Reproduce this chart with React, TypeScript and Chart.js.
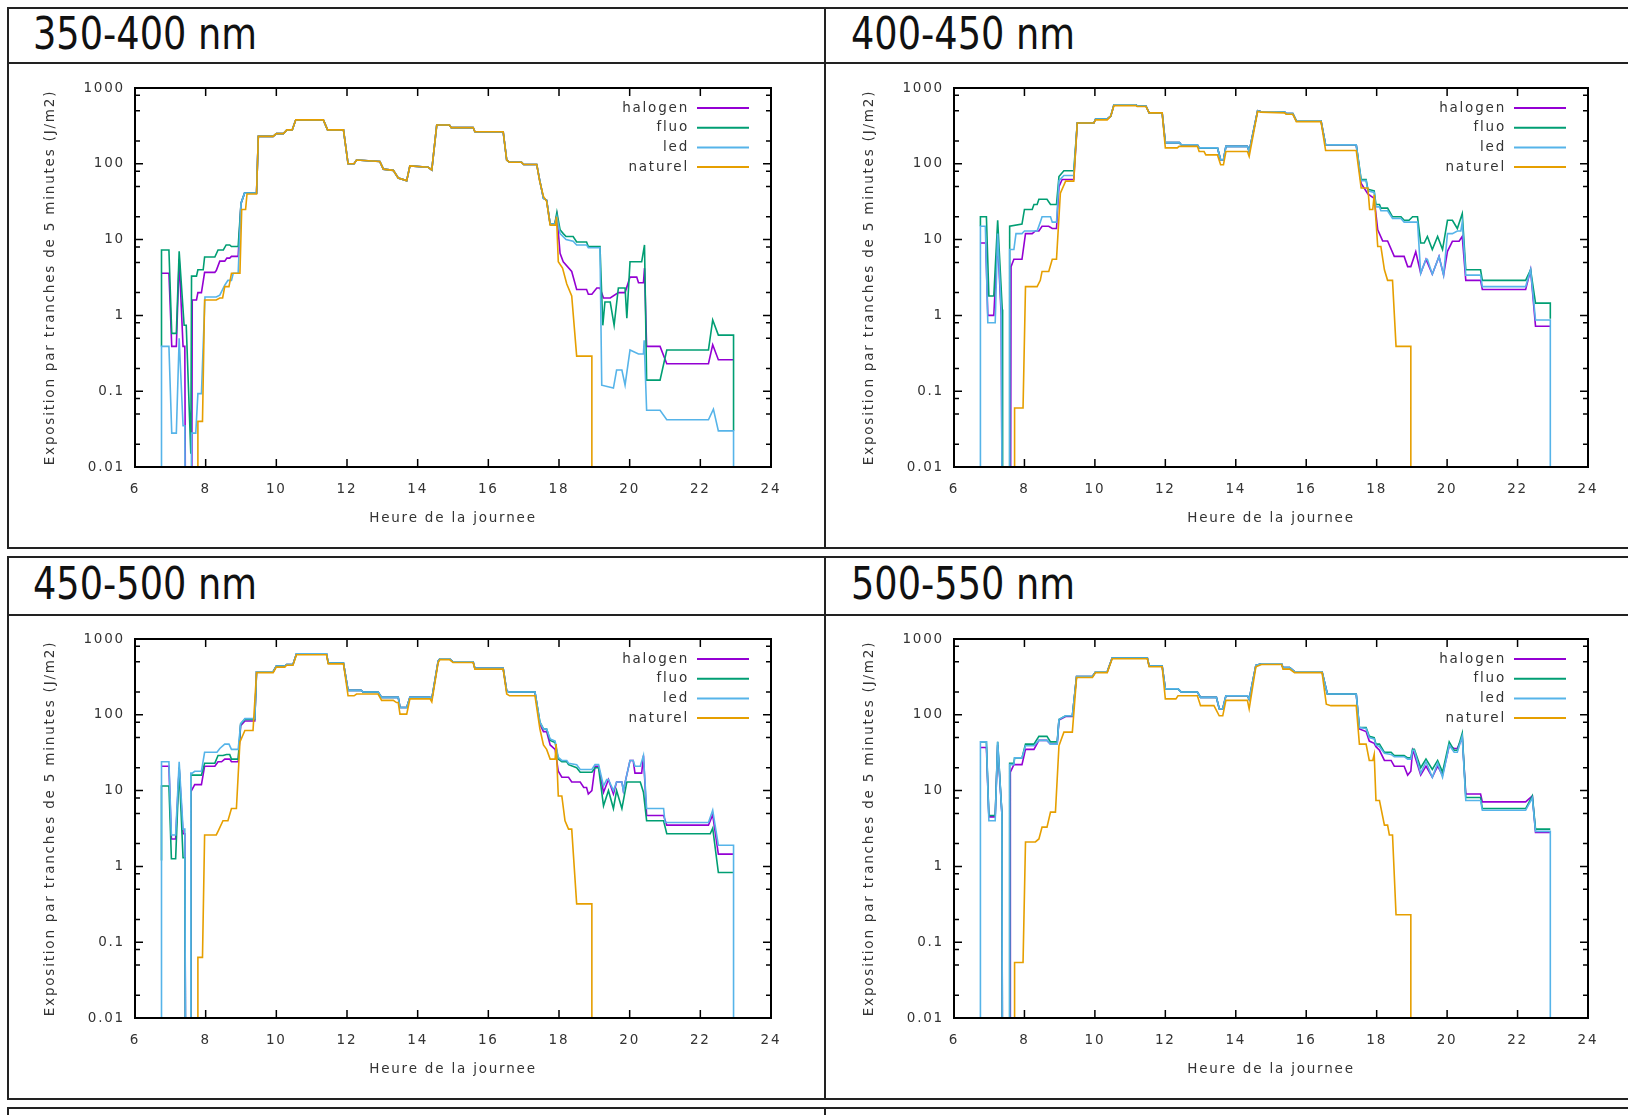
import React, { useEffect, useRef } from 'react';
import { Chart, registerables } from 'chart.js';

Chart.register(...registerables);

type Pt = [number, number];
const OFF = 1e-4; // no exposure (falls below the 0.01 floor)

const SERIES_NAMES = ['halogen', 'fluo', 'led', 'naturel'];
const SERIES_COLORS = ['#9400D3', '#009E73', '#56B4E9', '#E69F00'];
const X_TICKS = [6, 8, 10, 12, 14, 16, 18, 20, 22, 24];
const Y_TICKS = [0.01, 0.1, 1, 10, 100, 1000];
const Y_TICK_LABELS = ['0.01', '0.1', '1', '10', '100', '1000'];
const Y_MINOR = [2, 5, 8];
const BANDS = ['350-400 nm', '400-450 nm', '450-500 nm', '500-550 nm'];
const X_TITLE = 'Heure de la journee';
const Y_TITLE = 'Exposition par tranches de 5 minutes (J/m2)';

// ---------- 350-400 nm ----------
const HAL_AM_350: Pt[] = [[6.75,3.6],[6.96,3.6],[7.04,0.39],[7.17,0.39],[7.25,5.5],[7.36,0.39],[7.41,0.39],[7.44,OFF],[7.6,OFF],[7.62,1.6],[7.74,1.6],[7.78,2.0],[7.88,2.0],[7.97,3.7],[8.26,3.7],[8.3,3.9],[8.4,5.2],[8.54,5.2],[8.6,5.7],[8.68,5.7],[8.73,6.0],[8.92,6.0],[9.0,30],[9.1,41],[9.44,41]];
const FLUO_AM_350: Pt[] = [[6.75,0.39],[6.75,7.3],[6.96,7.3],[7.04,0.58],[7.17,0.58],[7.25,7.0],[7.39,0.74],[7.45,0.74],[7.58,0.015],[7.6,3.3],[7.74,3.3],[7.78,4.0],[7.93,4.0],[7.97,5.9],[8.26,5.9],[8.35,7.3],[8.5,7.3],[8.58,8.5],[8.68,8.5],[8.73,8.1],[8.92,8.1],[9.0,30],[9.1,41],[9.44,41]];
const LED_AM_350: Pt[] = [[6.75,OFF],[6.75,0.39],[6.96,0.39],[7.04,0.028],[7.17,0.028],[7.25,0.5],[7.36,0.035],[7.41,0.035],[7.44,OFF],[7.58,OFF],[7.6,0.028],[7.72,0.028],[7.78,0.093],[7.88,0.093],[7.98,1.75],[8.3,1.75],[8.4,1.85],[8.54,2.5],[8.63,2.9],[8.73,2.9],[8.78,3.6],[8.92,3.6],[9.0,30],[9.1,41],[9.44,41]];
const NAT_AM_350: Pt[] = [[7.78,OFF],[7.78,0.04],[7.91,0.04],[7.97,1.6],[8.3,1.6],[8.4,1.7],[8.48,1.7],[8.54,2.4],[8.66,2.4],[8.73,3.6],[8.97,3.6],[9.02,25],[9.13,25],[9.17,40],[9.44,40]];
const DAY_350: Pt[] = [[9.49,230],[9.91,230],[10.0,250],[10.2,250],[10.3,280],[10.45,280],[10.55,380],[11.33,380],[11.45,280],[11.9,280],[12.03,100],[12.2,100],[12.27,112],[12.93,107],[13.03,85],[13.31,82],[13.45,65],[13.69,60],[13.78,94],[14.3,90],[14.4,83],[14.54,325],[14.9,325],[14.95,300],[15.57,300],[15.62,265],[16.42,265],[16.52,112],[16.6,105],[16.94,105],[17.0,98],[17.37,98]];
const HAL_PM_350: Pt[] = [[17.45,62],[17.56,35],[17.65,33],[17.75,16],[17.88,16],[17.94,21],[18.03,6.6],[18.12,5.1],[18.36,3.8],[18.5,2.2],[18.78,2.2],[18.83,1.9],[18.93,1.9],[19.07,2.3],[19.16,2.3],[19.26,1.7],[19.45,1.7],[19.68,2.0],[19.87,2.0],[20.01,3.2],[20.2,3.2],[20.25,2.7],[20.39,2.7],[20.42,4.2],[20.48,0.39],[20.86,0.39],[21.05,0.23],[22.23,0.23],[22.35,0.41],[22.51,0.26],[22.94,0.26]];
const FLUO_PM_350: Pt[] = [[17.45,62],[17.56,35],[17.65,33],[17.75,16],[17.88,16],[17.94,23],[18.03,13.5],[18.12,12],[18.2,11],[18.4,11],[18.5,9.3],[18.78,9.3],[18.83,8.1],[19.16,8.1],[19.24,0.74],[19.3,1.5],[19.45,1.5],[19.56,0.74],[19.68,2.3],[19.87,2.3],[19.92,0.92],[20.01,5.1],[20.34,5.1],[20.42,8.5],[20.48,0.14],[20.86,0.14],[21.05,0.35],[22.23,0.35],[22.35,0.87],[22.51,0.55],[22.94,0.55],[22.94,0.03]];
const LED_PM_350: Pt[] = [[17.45,62],[17.56,35],[17.65,33],[17.75,16],[17.88,16],[17.94,20],[18.03,12],[18.2,10],[18.4,9.5],[18.5,8.5],[18.78,8.5],[18.83,7.8],[19.16,7.8],[19.21,0.12],[19.54,0.11],[19.63,0.19],[19.78,0.19],[19.87,0.12],[20.01,0.35],[20.25,0.31],[20.39,0.31],[20.41,0.47],[20.48,0.056],[20.86,0.056],[21.05,0.042],[22.23,0.042],[22.37,0.058],[22.51,0.03],[22.94,0.03],[22.94,OFF]];
const NAT_PM_350: Pt[] = [[17.45,60],[17.56,37],[17.65,32],[17.75,15.5],[17.9,15.5],[17.93,20],[17.98,5.1],[18.1,4.2],[18.22,2.6],[18.36,1.8],[18.5,0.29],[18.93,0.29],[18.93,OFF]];

// ---------- 400-450 nm ----------
const HAL_AM_400: Pt[] = [[6.75,9],[6.9,9],[6.96,1.0],[7.13,1.0],[7.24,10],[7.34,1.0],[7.38,OFF],[7.6,OFF],[7.62,4.4],[7.7,5.5],[7.93,5.5],[8.03,12],[8.22,12],[8.31,13],[8.41,13],[8.5,15],[8.69,15],[8.79,14],[8.91,14],[8.98,50],[9.07,62],[9.4,62]];
const FLUO_AM_400: Pt[] = [[6.75,15],[6.75,20],[6.92,20],[6.99,1.8],[7.13,1.8],[7.24,18],[7.37,1.2],[7.38,OFF],[7.58,OFF],[7.58,15],[7.93,16],[8.0,25],[8.22,25],[8.27,29],[8.36,29],[8.41,34],[8.64,34],[8.74,29],[8.91,29],[8.98,68],[9.12,81],[9.4,81]];
const LED_AM_400: Pt[] = [[6.75,OFF],[6.75,15],[6.89,15],[6.96,0.8],[7.17,0.8],[7.24,12],[7.34,1.2],[7.38,OFF],[7.58,OFF],[7.58,7.4],[7.7,7.4],[7.76,12],[7.93,12],[8.0,13],[8.36,13],[8.45,17],[8.5,20],[8.74,20],[8.79,17],[8.91,17],[8.98,60],[9.12,70],[9.4,70]];
const NAT_AM_400: Pt[] = [[7.72,OFF],[7.72,0.06],[7.96,0.06],[8.03,2.4],[8.36,2.4],[8.45,2.9],[8.5,3.8],[8.69,3.8],[8.79,5.5],[8.91,5.5],[9.02,41],[9.17,59],[9.4,59]];
const DAY_ART_400: Pt[] = [[9.5,345],[9.97,345],[10.02,390],[10.35,390],[10.45,425],[10.54,600],[11.16,600],[11.2,580],[11.45,580],[11.54,470],[11.91,470],[12.0,190],[12.4,190],[12.45,178],[12.91,178],[12.96,162],[13.48,162],[13.57,113],[13.65,113],[13.72,170],[14.33,170],[14.38,145],[14.62,500],[14.71,490],[15.39,480],[15.43,460],[15.62,460],[15.72,370],[16.42,370],[16.55,178],[17.42,178]];
const DAY_NAT_400: Pt[] = [[9.5,345],[9.97,345],[10.02,380],[10.35,380],[10.45,425],[10.54,585],[11.16,585],[11.2,570],[11.45,570],[11.54,470],[11.91,470],[12.0,162],[12.34,162],[12.39,170],[12.91,170],[12.96,145],[13.1,145],[13.15,131],[13.48,131],[13.57,97],[13.65,97],[13.72,145],[14.33,145],[14.38,125],[14.62,490],[14.71,480],[15.39,470],[15.43,450],[15.62,450],[15.72,360],[16.42,360],[16.55,150],[17.42,150]];
const HAL_PM_400: Pt[] = [[17.56,55],[17.75,40],[17.93,35],[18.03,13.5],[18.17,9.6],[18.31,9.6],[18.5,6],[18.78,6],[18.88,4.4],[18.97,4.4],[19.11,6.9],[19.25,3.6],[19.4,5.5],[19.58,3.5],[19.77,6],[19.9,3.4],[20.01,7],[20.15,9.5],[20.34,9.5],[20.43,11],[20.53,2.9],[20.95,2.9],[21.0,2.2],[22.23,2.2],[22.37,4.0],[22.51,0.72],[22.93,0.72]];
const FLUO_PM_400: Pt[] = [[17.56,62],[17.7,62],[17.75,46],[17.93,44],[17.98,29],[18.08,29],[18.12,26],[18.31,26],[18.45,20],[18.69,20],[18.78,18],[18.92,18],[19.02,20],[19.16,20],[19.25,9],[19.35,9],[19.44,11],[19.58,7.4],[19.73,11],[19.87,7.4],[20.01,18],[20.15,18],[20.29,14],[20.43,22],[20.53,4.0],[20.95,4.0],[21.0,2.9],[22.23,2.9],[22.37,4.0],[22.51,1.45],[22.93,1.45],[22.93,0.9]];
const LED_PM_400: Pt[] = [[17.56,60],[17.7,60],[17.75,44],[17.93,42],[17.98,27],[18.08,27],[18.12,24],[18.31,24],[18.45,19],[18.69,19],[18.78,17],[19.16,17],[19.25,3.6],[19.4,5.5],[19.44,5.5],[19.58,3.5],[19.77,6],[19.9,3.4],[20.01,12],[20.15,12],[20.29,13],[20.39,13],[20.43,17],[20.53,3.4],[20.95,3.4],[21.0,2.4],[22.23,2.4],[22.37,4.0],[22.51,0.87],[22.93,0.87],[22.93,OFF]];
const NAT_PM_400: Pt[] = [[17.56,48],[17.75,48],[17.8,25],[17.89,25],[17.93,39],[18.03,8.1],[18.12,8.1],[18.22,4.0],[18.31,2.9],[18.45,2.9],[18.55,0.39],[18.97,0.39],[18.97,OFF]];

// ---------- 450-500 nm ----------
const HAL_AM_450: Pt[] = [[6.75,21],[6.96,21],[7.03,2.3],[7.15,2.3],[7.25,20],[7.36,2.7],[7.41,2.7],[7.44,OFF],[7.58,OFF],[7.58,9.6],[7.69,12],[7.88,12],[7.97,21],[8.26,21],[8.35,24],[8.45,24],[8.54,26],[8.68,26],[8.73,24],[8.92,24],[8.99,72],[9.11,83],[9.39,83]];
const FLUO_AM_450: Pt[] = [[6.75,1.2],[6.75,11.5],[6.96,11.5],[7.03,1.26],[7.15,1.26],[7.25,20],[7.36,1.3],[7.41,1.3],[7.44,OFF],[7.58,OFF],[7.58,16],[7.88,16],[7.97,23],[8.26,23],[8.35,29],[8.49,29],[8.59,30],[8.68,30],[8.73,26],[8.92,26],[8.99,76],[9.11,87],[9.39,87]];
const LED_AM_450: Pt[] = [[6.75,OFF],[6.75,24],[6.96,24],[7.03,2.6],[7.15,2.6],[7.25,24],[7.36,3.1],[7.41,3.1],[7.44,OFF],[7.58,OFF],[7.58,17],[7.62,17],[7.69,18],[7.88,18],[7.97,32],[8.32,32],[8.4,36],[8.54,41],[8.66,41],[8.73,35],[8.92,35],[8.99,76],[9.11,89],[9.39,89]];
const NAT_AM_450: Pt[] = [[7.78,OFF],[7.78,0.063],[7.91,0.063],[7.97,2.6],[8.3,2.6],[8.35,2.9],[8.49,4.0],[8.63,4.0],[8.73,5.8],[8.87,5.8],[8.97,44],[9.11,62],[9.34,62]];
const DAY_ART_450: Pt[] = [[9.44,370],[9.91,370],[10.0,440],[10.24,440],[10.29,460],[10.47,460],[10.57,640],[11.42,640],[11.47,480],[11.9,480],[12.03,210],[12.4,210],[12.45,200],[12.88,200],[12.98,170],[13.45,170],[13.5,125],[13.69,125],[13.78,170],[14.35,170],[14.4,162],[14.58,510],[14.63,550],[14.9,550],[15.0,500],[15.57,500],[15.62,410],[16.42,410],[16.52,205],[16.6,200],[17.32,200]];
const DAY_NAT_450: Pt[] = [[9.44,360],[9.91,360],[10.0,425],[10.24,425],[10.29,450],[10.47,450],[10.57,620],[11.42,620],[11.47,470],[11.9,470],[12.03,178],[12.2,178],[12.27,188],[12.88,188],[12.98,155],[13.31,155],[13.4,145],[13.45,145],[13.5,102],[13.69,102],[13.78,162],[14.35,162],[14.4,148],[14.58,490],[14.63,535],[14.9,535],[15.0,490],[15.57,490],[15.62,400],[16.42,400],[16.52,188],[16.6,178],[17.32,178]];
const HAL_PM_450: Pt[] = [[17.46,75],[17.56,60],[17.65,60],[17.75,40],[17.89,35],[17.98,18],[18.08,15],[18.27,15],[18.36,13],[18.6,13],[18.7,11],[18.78,11],[18.83,9],[18.93,10],[19.02,21],[19.12,21],[19.26,9.5],[19.4,14],[19.54,9],[19.63,13],[19.78,13],[19.82,10],[20.01,25],[20.1,25],[20.15,17],[20.34,17],[20.39,29],[20.48,4.7],[20.96,4.7],[21.05,3.5],[22.23,3.5],[22.35,4.8],[22.51,1.45],[22.94,1.45]];
const FLUO_PM_450: Pt[] = [[17.46,80],[17.56,65],[17.65,65],[17.75,46],[17.89,43],[17.98,26],[18.08,24],[18.22,24],[18.27,22],[18.5,20],[18.6,17.5],[18.93,17.5],[19.02,20],[19.12,20],[19.26,6.3],[19.4,10],[19.54,5.8],[19.63,10],[19.78,5.8],[19.92,13],[20.3,13],[20.39,9.5],[20.48,4.0],[20.96,4.0],[21.05,2.7],[22.28,2.7],[22.35,3.2],[22.51,0.83],[22.94,0.83]];
const LED_PM_450: Pt[] = [[17.46,80],[17.56,65],[17.65,65],[17.75,48],[17.89,45],[17.98,27.5],[18.08,25],[18.22,25],[18.27,23],[18.5,22],[18.6,19],[18.93,19],[19.02,22],[19.12,22],[19.26,11.5],[19.35,14],[19.4,14],[19.54,10],[19.63,13],[19.78,13],[19.82,10],[20.01,25],[20.1,25],[20.15,21],[20.3,21],[20.39,29],[20.48,5.8],[20.96,5.8],[21.0,3.8],[22.23,3.8],[22.35,5.5],[22.51,1.9],[22.94,1.9],[22.94,OFF]];
const NAT_PM_450: Pt[] = [[17.46,65],[17.56,40],[17.65,35],[17.75,26],[17.89,26],[17.92,41],[17.98,8.5],[18.08,8.5],[18.17,4.0],[18.27,3.1],[18.36,3.1],[18.5,0.32],[18.93,0.32],[18.93,OFF]];

// ---------- 500-550 nm ----------
const HAL_AM_500: Pt[] = [[6.75,37],[6.92,37],[6.99,4.5],[7.17,4.5],[7.24,40],[7.36,4.9],[7.38,OFF],[7.6,OFF],[7.6,17.5],[7.7,22],[7.93,22],[8.03,35],[8.27,35],[8.41,46],[8.64,46],[8.74,41],[8.93,41],[8.98,85],[9.17,95],[9.36,95]];
const FLUO_AM_500: Pt[] = [[6.75,44],[6.92,44],[6.99,4.7],[7.17,4.7],[7.24,44],[7.36,5.1],[7.38,OFF],[7.58,OFF],[7.58,23],[7.7,23],[7.72,27],[7.93,27],[8.03,41],[8.27,41],[8.41,52],[8.64,52],[8.74,44],[8.93,44],[8.98,87],[9.17,97],[9.36,97]];
const LED_AM_500: Pt[] = [[6.75,OFF],[6.75,44],[6.92,44],[6.99,4.0],[7.17,4.0],[7.24,44],[7.36,4.9],[7.38,OFF],[7.58,OFF],[7.58,22],[7.7,22],[7.72,27],[7.93,27],[8.03,39],[8.27,39],[8.41,46],[8.64,46],[8.74,41],[8.93,41],[8.98,87],[9.17,97],[9.36,97]];
const NAT_AM_500: Pt[] = [[7.72,OFF],[7.72,0.054],[7.96,0.054],[8.03,2.1],[8.31,2.1],[8.41,2.3],[8.5,3.3],[8.64,3.3],[8.74,5.2],[8.88,5.2],[8.98,39],[9.12,59],[9.36,59]];
const DAY_ART_500: Pt[] = [[9.48,320],[9.93,320],[10.02,370],[10.35,370],[10.49,560],[11.49,560],[11.54,440],[11.91,440],[12.0,220],[12.36,220],[12.45,200],[12.91,200],[13.0,170],[13.45,170],[13.53,120],[13.63,120],[13.72,178],[14.33,178],[14.38,160],[14.57,450],[14.73,470],[15.3,470],[15.34,420],[15.53,420],[15.67,370],[16.45,370],[16.6,188],[17.42,188]];
const DAY_NAT_500: Pt[] = [[9.48,310],[9.93,310],[10.02,360],[10.35,360],[10.49,550],[11.49,550],[11.54,430],[11.91,430],[12.0,162],[12.3,162],[12.36,178],[12.91,178],[13.0,132],[13.38,132],[13.53,97],[13.63,97],[13.72,155],[14.33,155],[14.38,120],[14.57,430],[14.73,460],[15.3,460],[15.34,400],[15.53,400],[15.67,360],[16.45,360],[16.57,138],[16.7,132],[17.42,132]];
const HAL_PM_500: Pt[] = [[17.51,65],[17.7,60],[17.79,45],[17.93,42],[17.98,38],[18.08,34],[18.22,25],[18.41,25],[18.5,21],[18.78,21],[18.88,16],[18.97,18],[19.02,34],[19.07,30],[19.25,16],[19.4,21],[19.58,15],[19.73,21],[19.87,16],[20.06,39],[20.2,36],[20.29,36],[20.43,50],[20.53,9],[20.95,9],[21.0,7.1],[22.23,7.1],[22.42,8.5],[22.51,2.8],[22.93,2.8]];
const FLUO_PM_500: Pt[] = [[17.51,68],[17.7,68],[17.79,52],[17.93,50],[17.98,41],[18.08,41],[18.22,32],[18.41,32],[18.5,29],[18.78,29],[18.88,27],[18.97,27],[19.02,35],[19.07,35],[19.25,20],[19.4,26],[19.58,19],[19.73,25],[19.87,17.5],[20.06,44],[20.2,34],[20.29,34],[20.43,57],[20.53,8.1],[20.95,8.1],[21.0,5.8],[22.23,5.8],[22.42,8.5],[22.51,3.1],[22.93,3.1]];
const LED_PM_500: Pt[] = [[17.51,68],[17.7,66],[17.79,50],[17.93,48],[17.98,40],[18.08,38],[18.22,31],[18.41,30],[18.5,28],[18.78,28],[18.88,26],[18.97,26],[19.02,34],[19.07,34],[19.25,17],[19.4,24],[19.58,15],[19.73,23],[19.87,15],[20.06,40],[20.2,32],[20.29,32],[20.43,52],[20.53,7.4],[20.95,7.4],[21.0,5.5],[22.23,5.5],[22.42,8],[22.51,2.9],[22.93,2.9],[22.93,OFF]];
const NAT_PM_500: Pt[] = [[17.51,41],[17.7,41],[17.79,25],[17.89,25],[17.93,30],[17.98,7.4],[18.08,7.4],[18.22,3.5],[18.31,3.5],[18.36,2.6],[18.45,2.6],[18.55,0.23],[18.97,0.23],[18.97,OFF]];

const PANELS = [
  { title: BANDS[0], row: 0, col: 0,
    am: [HAL_AM_350, FLUO_AM_350, LED_AM_350, NAT_AM_350],
    day: [DAY_350, DAY_350, DAY_350, DAY_350],
    pm: [HAL_PM_350, FLUO_PM_350, LED_PM_350, NAT_PM_350] },
  { title: BANDS[1], row: 0, col: 1,
    am: [HAL_AM_400, FLUO_AM_400, LED_AM_400, NAT_AM_400],
    day: [DAY_ART_400, DAY_ART_400, DAY_ART_400, DAY_NAT_400],
    pm: [HAL_PM_400, FLUO_PM_400, LED_PM_400, NAT_PM_400] },
  { title: BANDS[2], row: 1, col: 0,
    am: [HAL_AM_450, FLUO_AM_450, LED_AM_450, NAT_AM_450],
    day: [DAY_ART_450, DAY_ART_450, DAY_ART_450, DAY_NAT_450],
    pm: [HAL_PM_450, FLUO_PM_450, LED_PM_450, NAT_PM_450] },
  { title: BANDS[3], row: 1, col: 1,
    am: [HAL_AM_500, FLUO_AM_500, LED_AM_500, NAT_AM_500],
    day: [DAY_ART_500, DAY_ART_500, DAY_ART_500, DAY_NAT_500],
    pm: [HAL_PM_500, FLUO_PM_500, LED_PM_500, NAT_PM_500] },
];

// ---------- layout ----------
const PLOT_LEFT = [135, 954];
const PLOT_W = [636, 634];
const PLOT_TOP = [88, 639];
const PLOT_H = 379;
const Y_AXIS_W = 125;
const X_AXIS_H = 68;
const PAD_TOP = 23;
const PAD_RIGHT = 39;
const ROW_TOP = [8, 557, 1108];
const ROW_TITLE_BOTTOM = [63, 615];
const ROW_BOTTOM = [548, 1099];
const BORDER_LEFT = 8;
const DIVIDER_X = 825;
const TITLE_LEFT = [33, 851];
const TITLE_TOP = [12.3, 562.3];

const FONT_FAMILY = '"DejaVu Sans", "Liberation Sans", sans-serif';
const FONT_SIZE = 13.5;
const TEXT_COLOR = '#333';
const LETTER_SP = '1.8px';

const gnuplotFrame = {
  id: 'gnuplotFrame',
  beforeDraw(chart: any) {
    chart.ctx.letterSpacing = LETTER_SP;
  },
  afterDatasetsDraw(chart: any) {
    const { ctx, chartArea: a } = chart;
    const xs = chart.scales.x;
    const ys = chart.scales.y;
    ctx.save();
    ctx.strokeStyle = '#000';
    ctx.lineWidth = 1.5;
    ctx.beginPath();
    X_TICKS.forEach((t) => {
      if (t <= xs.min || t >= xs.max) return;
      const px = xs.getPixelForValue(t);
      ctx.moveTo(px, a.bottom); ctx.lineTo(px, a.bottom - 8);
      ctx.moveTo(px, a.top); ctx.lineTo(px, a.top + 8);
    });
    Y_TICKS.forEach((t, i) => {
      const py = ys.getPixelForValue(t);
      if (i > 0 && i < Y_TICKS.length - 1) {
        ctx.moveTo(a.left, py); ctx.lineTo(a.left + 8, py);
        ctx.moveTo(a.right, py); ctx.lineTo(a.right - 8, py);
      }
      if (i < Y_TICKS.length - 1) {
        Y_MINOR.forEach((m) => {
          const pm = ys.getPixelForValue(t * m);
          ctx.moveTo(a.left, pm); ctx.lineTo(a.left + 5, pm);
          ctx.moveTo(a.right, pm); ctx.lineTo(a.right - 5, pm);
        });
      }
    });
    ctx.stroke();
    ctx.lineWidth = 2;
    ctx.strokeRect(a.left, a.top, a.right - a.left, a.bottom - a.top);
    ctx.font = `${FONT_SIZE}px ${FONT_FAMILY}`;
    ctx.letterSpacing = LETTER_SP;
    ctx.fillStyle = TEXT_COLOR;
    ctx.textAlign = 'right';
    ctx.textBaseline = 'middle';
    SERIES_NAMES.forEach((name, i) => {
      const yy = a.top + 20 + i * 19.7;
      ctx.fillText(name, a.right - 82, yy);
      ctx.strokeStyle = SERIES_COLORS[i];
      ctx.lineWidth = 2;
      ctx.beginPath();
      ctx.moveTo(a.right - 74, yy);
      ctx.lineTo(a.right - 22, yy);
      ctx.stroke();
    });
    ctx.restore();
  },
};

function yLabel(v: number): string {
  const i = Y_TICKS.findIndex((t) => Math.abs(Math.log10(t) - Math.log10(v)) < 1e-6);
  return i >= 0 ? Y_TICK_LABELS[i] : '';
}

function PanelChart({ panel }: { panel: any }) {
  const ref = useRef<HTMLCanvasElement | null>(null);
  const w = Y_AXIS_W + PLOT_W[panel.col] + PAD_RIGHT;
  const h = PAD_TOP + PLOT_H + X_AXIS_H;
  const left = PLOT_LEFT[panel.col] - Y_AXIS_W;
  const top = PLOT_TOP[panel.row] - PAD_TOP;

  useEffect(() => {
    if (!ref.current) return;
    const font = { family: FONT_FAMILY, size: FONT_SIZE };
    const datasets = SERIES_NAMES.map((name, i) => ({
      label: name,
      data: [...panel.am[i], ...panel.day[i], ...panel.pm[i]].map(([x, y]: Pt) => ({ x, y })),
      borderColor: SERIES_COLORS[i],
      backgroundColor: SERIES_COLORS[i],
      borderWidth: 1.6,
      pointRadius: 0,
      tension: 0,
      fill: false,
      order: SERIES_NAMES.length - 1 - i,
    }));
    const chart = new Chart(ref.current, {
      type: 'line',
      data: { datasets },
      options: {
        animation: false,
        responsive: false,
        maintainAspectRatio: false,
        events: [],
        layout: { padding: { top: PAD_TOP, right: PAD_RIGHT, left: 0, bottom: 0 } },
        plugins: { legend: { display: false }, tooltip: { enabled: false } },
        scales: {
          x: {
            type: 'linear',
            min: 6,
            max: 24,
            afterBuildTicks: (s: any) => { s.ticks = X_TICKS.map((v) => ({ value: v })); },
            afterFit: (s: any) => { s.height = X_AXIS_H; },
            grid: { display: false, drawTicks: false },
            border: { display: false },
            ticks: { font, color: TEXT_COLOR, padding: 14, maxRotation: 0, autoSkip: false, callback: (v: any) => String(v) },
            title: { display: true, text: X_TITLE, font, color: TEXT_COLOR, padding: { top: 0, bottom: 8 } },
          },
          y: {
            type: 'logarithmic',
            min: 0.01,
            max: 1000,
            afterBuildTicks: (s: any) => { s.ticks = Y_TICKS.map((v) => ({ value: v })); },
            afterFit: (s: any) => { s.width = Y_AXIS_W; },
            grid: { display: false, drawTicks: false },
            border: { display: false },
            ticks: { font, color: TEXT_COLOR, padding: 10, autoSkip: false, callback: (v: any) => yLabel(Number(v)) },
            title: { display: true, text: Y_TITLE, font, color: TEXT_COLOR, padding: { top: 32, bottom: 0 } },
          },
        },
      } as any,
      plugins: [gnuplotFrame],
    } as any);
    return () => chart.destroy();
  }, []);

  return (
    <canvas
      ref={ref}
      width={w}
      height={h}
      style={{ position: 'absolute', left, top, width: w, height: h }}
    />
  );
}

const LINE = '#222';

function HLine({ y, x1, x2 }: { y: number; x1: number; x2: number }) {
  return <div style={{ position: 'absolute', left: x1 - 1, top: y - 1, width: x2 - x1 + 2, height: 2, background: LINE }} />;
}
function VLine({ x, y1, y2 }: { x: number; y1: number; y2: number }) {
  return <div style={{ position: 'absolute', left: x - 1, top: y1 - 1, width: 2, height: y2 - y1 + 2, background: LINE }} />;
}

export default function App() {
  const lines: any[] = [];
  [0, 1].forEach((r) => {
    lines.push(<HLine key={`t${r}`} y={ROW_TOP[r]} x1={BORDER_LEFT} x2={1640} />);
    lines.push(<HLine key={`m${r}`} y={ROW_TITLE_BOTTOM[r]} x1={BORDER_LEFT} x2={1640} />);
    lines.push(<HLine key={`b${r}`} y={ROW_BOTTOM[r]} x1={BORDER_LEFT} x2={1640} />);
    lines.push(<VLine key={`l${r}`} x={BORDER_LEFT} y1={ROW_TOP[r]} y2={ROW_BOTTOM[r]} />);
    lines.push(<VLine key={`d${r}`} x={DIVIDER_X} y1={ROW_TOP[r]} y2={ROW_BOTTOM[r]} />);
  });
  lines.push(<HLine key="t2" y={ROW_TOP[2]} x1={BORDER_LEFT} x2={1640} />);
  lines.push(<VLine key="l2" x={BORDER_LEFT} y1={ROW_TOP[2]} y2={1120} />);
  lines.push(<VLine key="d2" x={DIVIDER_X} y1={ROW_TOP[2]} y2={1120} />);

  return (
    <div style={{ position: 'absolute', left: 0, top: 0, width: 1628, height: 1115, overflow: 'hidden', background: '#fff' }}>
      {lines}
      {PANELS.map((p) => (
        <div
          key={`title-${p.title}`}
          style={{
            position: 'absolute',
            left: TITLE_LEFT[p.col],
            top: TITLE_TOP[p.row],
            fontFamily: '"DejaVu Sans", sans-serif',
            fontSize: 44,
            lineHeight: '44px',
            color: '#111',
            whiteSpace: 'nowrap',
            transform: 'scaleX(0.834)',
            transformOrigin: '0 0',
          }}
        >
          {p.title}
        </div>
      ))}
      {PANELS.map((p) => (
        <PanelChart key={`chart-${p.title}`} panel={p} />
      ))}
    </div>
  );
}
